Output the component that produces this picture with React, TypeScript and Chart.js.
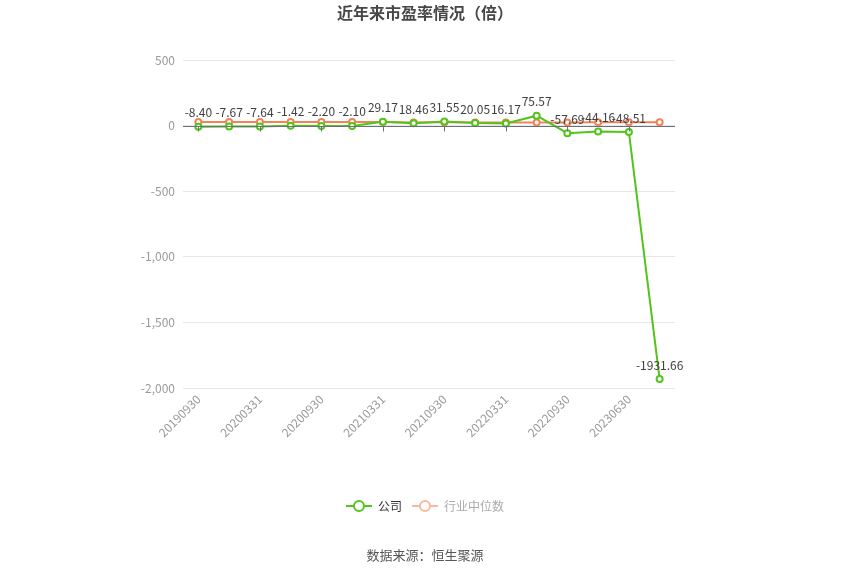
import React, { useEffect, useRef } from 'react';
import { Chart, registerables } from 'chart.js';

Chart.register(...registerables);

const categories = ['20190930', '20191231', '20200331', '20200630', '20200930', '20201231', '20210331', '20210630', '20210930', '20211231', '20220331', '20220630', '20220930', '20221231', '20230630', '20230930'];
const companyPE = [-8.40, -7.67, -7.64, -1.42, -2.20, -2.10, 29.17, 18.46, 31.55, 20.05, 16.17, 75.57, -57.69, -44.16, -48.51, -1931.66];
const industryPE = [28, 28, 27, 27, 27, 28, 27, 23, 26, 24, 23, 24, 24, 25, 25, 25];
const yTickValues = [500, 0, -500, -1000, -1500, -2000];

const GREEN = '#52c41a';
const ORANGE = '#f08358';
const FONT = '"Noto Sans CJK SC", "Noto Sans", sans-serif';

function makeLegendIcon(color: string) {
  const c = document.createElement('canvas');
  c.width = 26;
  c.height = 14;
  const ctx = c.getContext('2d')!;
  ctx.strokeStyle = color;
  ctx.lineWidth = 2;
  ctx.beginPath();
  ctx.moveTo(0, 7);
  ctx.lineTo(26, 7);
  ctx.stroke();
  ctx.fillStyle = '#fff';
  ctx.beginPath();
  ctx.arc(13, 7, 5, 0, Math.PI * 2);
  ctx.fill();
  ctx.stroke();
  return c;
}

const overlayPlugin = {
  id: 'overlay',
  afterDatasetsDraw(chart: any) {
    const { ctx, chartArea, scales } = chart;
    const x = scales.x;
    const y = scales.y;
    const y0 = y.getPixelForValue(0);
    ctx.save();
    ctx.strokeStyle = '#6e7079';
    ctx.lineWidth = 1;
    ctx.beginPath();
    ctx.moveTo(chartArea.left, Math.round(y0) + 0.5);
    ctx.lineTo(chartArea.right, Math.round(y0) + 0.5);
    ctx.stroke();
    for (let i = 0; i < categories.length; i += 2) {
      const px = Math.round(x.getPixelForValue(i)) + 0.5;
      ctx.beginPath();
      ctx.moveTo(px, Math.round(y0) + 0.5);
      ctx.lineTo(px, Math.round(y0) + 5.5);
      ctx.stroke();
    }
    ctx.restore();
  },
  afterDraw(chart: any) {
    const { ctx } = chart;
    const meta = chart.getDatasetMeta(0);
    ctx.save();
    ctx.font = `12px ${FONT}`;
    ctx.fillStyle = '#404040';
    ctx.textAlign = 'center';
    ctx.textBaseline = 'bottom';
    meta.data.forEach((pt: any, i: number) => {
      ctx.fillText(companyPE[i].toFixed(2), pt.x, pt.y - 8);
    });
    ctx.font = `bold 16px ${FONT}`;
    ctx.fillStyle = '#464646';
    ctx.textBaseline = 'middle';
    ctx.fillText('近年来市盈率情况（倍）', 425, 13);
    ctx.font = `13px ${FONT}`;
    ctx.fillStyle = '#555';
    ctx.fillText('数据来源：恒生聚源', 425, 555);
    ctx.restore();
  },
};

export default function App() {
  const ref = useRef<HTMLCanvasElement>(null);
  useEffect(() => {
    document.body.style.margin = '0';
    const icons = [makeLegendIcon(GREEN), makeLegendIcon('#f9b9a0')];
    const chart = new Chart(ref.current!, {
      type: 'line',
      data: {
        labels: categories,
        datasets: [
          {
            label: '公司',
            data: companyPE,
            borderColor: GREEN,
            backgroundColor: '#fff',
            borderWidth: 2,
            pointRadius: 3,
            pointBorderWidth: 2,
            pointBackgroundColor: '#fff',
            pointBorderColor: GREEN,
            tension: 0,
            yAxisID: 'y',
          },
          {
            label: '行业中位数',
            data: industryPE,
            borderColor: ORANGE,
            backgroundColor: '#fff',
            borderWidth: 2,
            pointRadius: 3,
            pointBorderWidth: 2,
            pointBackgroundColor: '#fff',
            pointBorderColor: ORANGE,
            tension: 0,
            yAxisID: 'y',
          },
        ],
      },
      options: {
        responsive: false,
        animation: false,
        layout: { padding: { left: 0, right: 0, top: 60, bottom: 52 } },
        plugins: {
          title: { display: false },
          tooltip: { enabled: false },
          legend: {
            position: 'bottom',
            labels: {
              usePointStyle: true,
              pointStyleWidth: 26,
              padding: 10,
              font: { family: FONT, size: 12 },
              generateLabels: (ch: any) =>
                ch.data.datasets.map((ds: any, i: number) => ({
                  text: ds.label,
                  fillStyle: ds.borderColor,
                  strokeStyle: ds.borderColor,
                  pointStyle: icons[i],
                  fontColor: i === 0 ? '#333' : '#aaa',
                  hidden: false,
                  datasetIndex: i,
                  lineWidth: 0,
                })),
            },
          },
        },
        scales: {
          x: {
            type: 'category',
            offset: true,
            grid: { display: false, drawTicks: false },
            border: { display: false },
            ticks: {
              autoSkip: false,
              maxRotation: 45,
              minRotation: 45,
              padding: 4,
              color: '#999',
              font: { family: FONT, size: 12 },
              callback: (_v: any, i: number) => (i % 2 === 0 ? categories[i] : ''),
            },
            afterFit: (s: any) => {
              s.height = 102;
            },
          },
          y: {
            min: -2000,
            max: 500,
            afterBuildTicks: (s: any) => {
              s.ticks = yTickValues.map((v) => ({ value: v }));
            },
            grid: { color: '#e3e7f0', drawTicks: false },
            border: { display: false },
            ticks: {
              padding: 8,
              color: '#999',
              font: { family: FONT, size: 12 },
              callback: (v: any) => Number(v).toLocaleString('en-US'),
            },
            afterFit: (s: any) => {
              s.width = 183;
            },
          },
          yRight: {
            position: 'right',
            min: 0,
            max: 1,
            grid: { display: false, drawTicks: false },
            border: { display: false },
            ticks: { display: false },
            afterFit: (s: any) => {
              s.width = 175;
            },
          },
        },
      },
      plugins: [overlayPlugin],
    });
    return () => chart.destroy();
  }, []);
  return (
    <div style={{ width: 850, height: 574, background: '#fff' }}>
      <canvas ref={ref} width={850} height={574} style={{ display: 'block' }} />
    </div>
  );
}
